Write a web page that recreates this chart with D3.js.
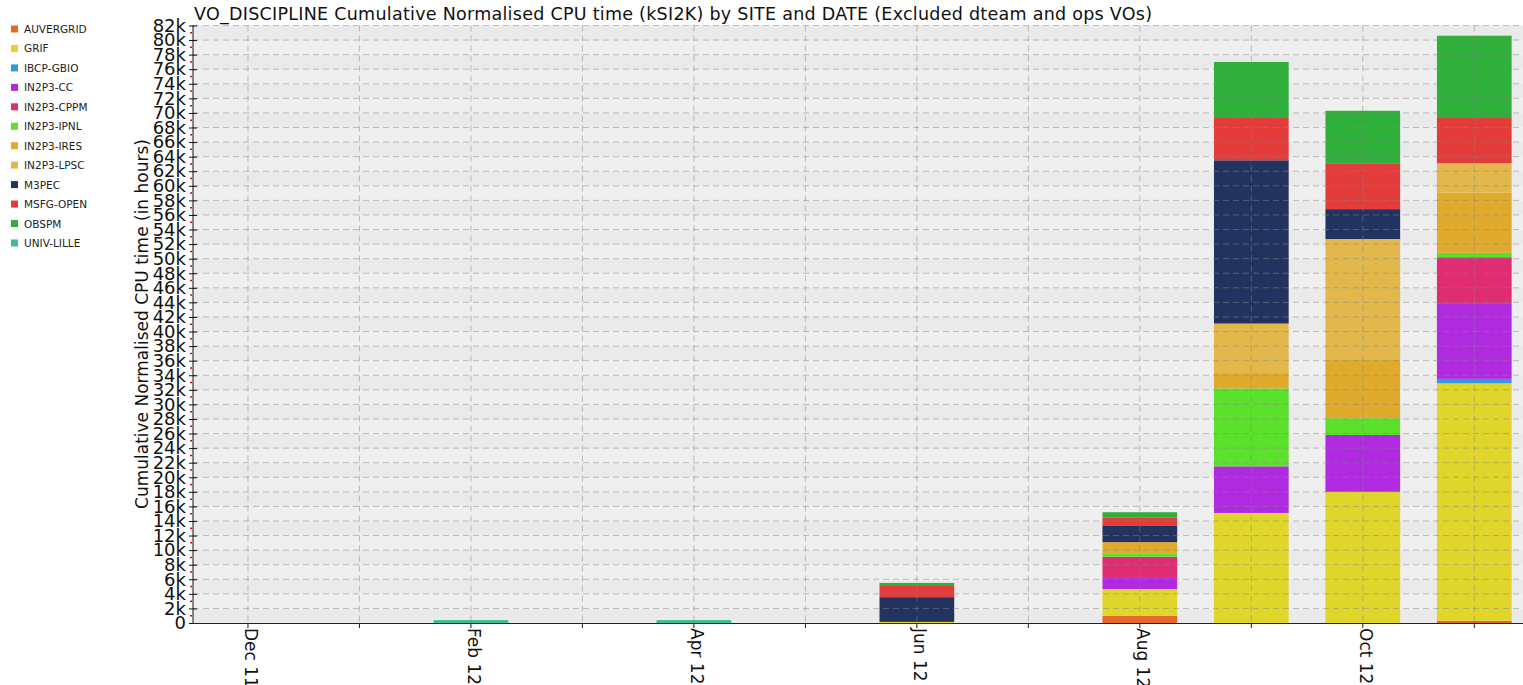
<!DOCTYPE html>
<html lang='en'>

<head>
    <meta charset='UTF-8'>
    <title>VO_DISCIPLINE Cumulative Normalised CPU time</title>
    <script src='https://d3js.org/d3.v7.min.js' charset='utf-8'></script>
    <style>
        body {
            font-family: 'DejaVu Sans', sans-serif;
            margin: 0px;
            overflow: hidden;
            background: #fff;
        }
    </style>
</head>

<body>
    <div id='chart'></div>
    <script>
        'use strict';

        const months = ['Dec 11', 'Jan 12', 'Feb 12', 'Mar 12', 'Apr 12', 'May 12',
            'Jun 12', 'Jul 12', 'Aug 12', 'Sep 12', 'Oct 12', 'Nov 12'];
        const monthLabels = ['Dec 11', 'Feb 12', 'Apr 12', 'Jun 12', 'Aug 12', 'Oct 12'];
        const sites = ['AUVERGRID', 'GRIF', 'IBCP-GBIO', 'IN2P3-CC', 'IN2P3-CPPM', 'IN2P3-IPNL',
            'IN2P3-IRES', 'IN2P3-LPSC', 'M3PEC', 'MSFG-OPEN', 'OBSPM', 'UNIV-LILLE'];
        const siteColors = ['#e5672c', '#e0d62b', '#3399dd', '#b02ae0', '#e02c72', '#5be02c',
            '#e0aa2c', '#e2b84c', '#22335f', '#e43b3b', '#2eb03a', '#3abf8f'];

        // values in kSI2K hours (thousands), one per month
        const auvergrid = [0, 0, 0, 0, 0, 0, 0, 0, 1.0, 0, 0, 0.3];
        const grif = [0, 0, 0, 0, 0, 0, 0.15, 0, 3.65, 15.1, 18.0, 32.6];
        const ibcpGbio = [0, 0, 0, 0, 0, 0, 0, 0, 0, 0, 0, 0.6];
        const in2p3Cc = [0, 0, 0, 0, 0, 0, 0, 0, 1.65, 6.4, 7.8, 10.4];
        const in2p3Cppm = [0, 0, 0, 0, 0, 0, 0, 0, 2.8, 0, 0, 6.3];
        const in2p3Ipnl = [0, 0, 0, 0, 0, 0, 0, 0, 0.4, 10.7, 2.3, 0.6];
        const in2p3Ires = [0, 0, 0, 0, 0, 0, 0, 0, 1.6, 2.1, 8.0, 8.3];
        const in2p3Lpsc = [0, 0, 0, 0, 0, 0, 0, 0, 0, 6.8, 16.6, 4.0];
        const m3pec = [0, 0, 0, 0, 0, 0, 3.4, 0, 2.3, 22.4, 4.1, 0];
        const msfgOpen = [0, 0, 0, 0, 0, 0, 1.65, 0, 1.1, 5.8, 6.3, 6.2];
        const obspm = [0, 0, 0, 0, 0, 0, 0.3, 0, 0.7, 7.7, 7.2, 11.3];
        const univLille = [0, 0, 0.4, 0, 0.4, 0, 0, 0, 0, 0, 0, 0];

        const series = [auvergrid, grif, ibcpGbio, in2p3Cc, in2p3Cppm, in2p3Ipnl,
            in2p3Ires, in2p3Lpsc, m3pec, msfgOpen, obspm, univLille];

        const width = 1523, height = 685;
        const plot = { left: 193, right: 1523, top: 25.5, bottom: 623 };

        const rows = months.map((m, i) => {
            const r = { month: m, idx: i };
            sites.forEach((s, j) => { r[s] = series[j][i]; });
            return r;
        });
        const stacked = d3.stack().keys(sites)(rows);

        const svg = d3.select('#chart')
            .append('svg')
            .attr('width', width)
            .attr('height', height);

        const x = d3.scaleLinear()
            .domain([-0.493, 11.437])
            .range([plot.left, plot.right]);
        const step = x(1) - x(0);
        const barW = step * 0.67;

        const y = d3.scaleLinear()
            .domain([0, 82])
            .range([plot.bottom, plot.top]);

        // background bands
        const bands = d3.range(0, 82, 2);
        svg.append('g').selectAll('rect')
            .data(bands)
            .enter()
            .append('rect')
            .attr('x', plot.left)
            .attr('width', plot.right - plot.left)
            .attr('y', d => y(d + 2))
            .attr('height', d => y(d) - y(d + 2))
            .attr('fill', (d, i) => i % 2 === 0 ? '#eaeaea' : '#efefef');

        // bars
        svg.append('g').selectAll('g')
            .data(stacked)
            .enter()
            .append('g')
            .attr('fill', (d, i) => siteColors[i])
            .selectAll('rect')
            .data(d => d.filter(p => p[1] - p[0] > 0))
            .enter()
            .append('rect')
            .attr('x', d => x(d.data.idx) - barW / 2)
            .attr('width', barW)
            .attr('y', d => y(d[1]))
            .attr('height', d => y(d[0]) - y(d[1]));

        // grid on top
        const grid = svg.append('g')
            .attr('stroke', '#888')
            .attr('stroke-opacity', 0.5)
            .attr('stroke-dasharray', '6,4');
        grid.selectAll('line.h')
            .data(d3.range(2, 83, 2))
            .enter()
            .append('line')
            .attr('x1', plot.left)
            .attr('x2', plot.right)
            .attr('y1', d => y(d))
            .attr('y2', d => y(d));
        grid.selectAll('line.v')
            .data(months.map((m, i) => i))
            .enter()
            .append('line')
            .attr('x1', d => x(d))
            .attr('x2', d => x(d))
            .attr('y1', plot.top)
            .attr('y2', plot.bottom + 4);

        // y axis
        const yAxis = d3.axisLeft(y)
            .tickValues(d3.range(0, 83, 2))
            .tickFormat(d => d === 0 ? '0' : d + 'k')
            .tickSize(4)
            .tickPadding(3);
        const ya = svg.append('g')
            .attr('transform', `translate(${plot.left}, 0)`)
            .call(yAxis);
        ya.selectAll('text')
            .attr('font-family', 'DejaVu Sans')
            .attr('font-size', 18)
            .attr('fill', '#111');
        ya.selectAll('.tick line').attr('x2', 4).attr('x1', -4).attr('stroke', '#111');
        ya.select('.domain').attr('stroke', '#111').attr('d', `M0,${plot.top}V${plot.bottom}`);
        // red minor ticks
        svg.append('g').selectAll('line')
            .data(d3.range(1, 82, 2))
            .enter()
            .append('line')
            .attr('x1', plot.left - 3)
            .attr('x2', plot.left - 1)
            .attr('y1', d => y(d))
            .attr('y2', d => y(d))
            .attr('stroke', '#e00')
            .attr('stroke-width', 1.5);

        // x axis
        svg.append('line')
            .attr('x1', plot.left)
            .attr('x2', plot.right)
            .attr('y1', plot.bottom + 0.5)
            .attr('y2', plot.bottom + 0.5)
            .attr('stroke', '#222')
            .attr('stroke-width', 1.2);
        svg.append('g').selectAll('line')
            .data(months.map((m, i) => i))
            .enter()
            .append('line')
            .attr('x1', d => x(d))
            .attr('x2', d => x(d))
            .attr('y1', plot.bottom)
            .attr('y2', plot.bottom + 5)
            .attr('stroke', '#222');
        svg.append('g').selectAll('text')
            .data(monthLabels)
            .enter()
            .append('text')
            .attr('transform', d => `translate(${x(months.indexOf(d)) - 3}, ${plot.bottom + 5}) rotate(90)`)
            .attr('font-size', 17)
            .attr('fill', '#111')
            .text(d => d);

        // title
        svg.append('text')
            .attr('x', plot.left + 1)
            .attr('y', 20)
            .attr('font-size', 17.5)
            .attr('textLength', 958)
            .attr('lengthAdjust', 'spacing')
            .attr('fill', '#111')
            .text('VO_DISCIPLINE Cumulative Normalised CPU time (kSI2K) by SITE and DATE (Excluded dteam and ops VOs)');

        // y label
        svg.append('text')
            .attr('transform', `translate(148, 324) rotate(-90)`)
            .attr('text-anchor', 'middle')
            .attr('font-size', 17)
            .attr('fill', '#111')
            .text('Cumulative Normalised CPU time (in hours)');

        // legend
        const lg = svg.append('g').selectAll('g')
            .data(sites)
            .enter()
            .append('g')
            .attr('transform', (d, i) => `translate(11, ${29 + i * 19.45})`);
        lg.append('rect')
            .attr('x', 0)
            .attr('y', -3.5)
            .attr('width', 7)
            .attr('height', 7)
            .attr('fill', (d, i) => siteColors[i]);
        lg.append('text')
            .attr('x', 13)
            .attr('y', 4)
            .attr('font-size', 10.5)
            .attr('fill', '#222')
            .text(d => d);
    </script>
</body>

</html>
